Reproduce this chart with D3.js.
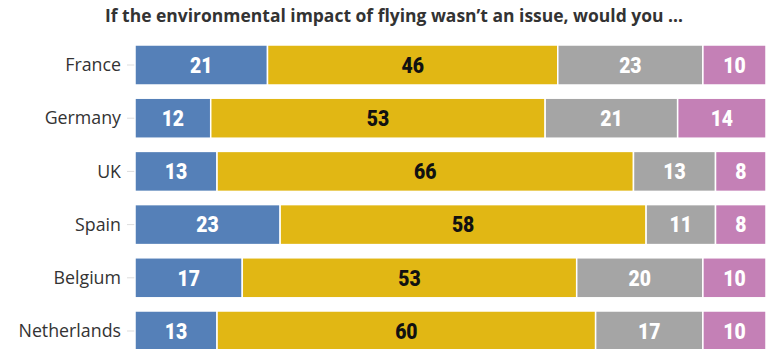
<!DOCTYPE html>
<html>
<head>
<meta charset="utf-8">
<script src="https://cdn.jsdelivr.net/npm/d3@7"></script>
<style>
  html, body { margin: 0; padding: 0; background: #fff; }
  svg { display: block; }
</style>
</head>
<body>
<svg id="chart" width="772" height="349"></svg>
<script>
const title = "If the environmental impact of flying wasn\u2019t an issue, would you \u2026";
const countries = ["France", "Germany", "UK", "Spain", "Belgium", "Netherlands"];
const seriesKeys = ["s1", "s2", "s3", "s4"];
const s1 = [21, 12, 13, 23, 17, 13];
const s2 = [46, 53, 66, 58, 53, 60];
const s3 = [23, 21, 13, 11, 20, 17];
const s4 = [10, 14, 8, 8, 10, 10];
const colors = ["#5580b8", "#e1b714", "#a5a5a5", "#c480b6"];
const textColors = ["#ffffff", "#111111", "#ffffff", "#ffffff"];

const rows = countries.map((c, i) => ({ country: c, s1: s1[i], s2: s2[i], s3: s3[i], s4: s4[i] }));
const stacked = d3.stack().keys(seriesKeys)(rows);

const svg = d3.select("#chart");
const x = d3.scaleLinear().domain([0, 100]).range([135, 766]);
const y = d3.scaleBand().domain(countries).range([38.4, 357.6]).paddingInner(0.248).paddingOuter(0.124);

// title
svg.append("text")
  .attr("x", 394).attr("y", 22)
  .attr("text-anchor", "middle")
  .attr("font-family", "'Open Sans', sans-serif")
  .attr("font-weight", 700)
  .attr("font-size", 18.5)
  .attr("fill", "#333")
  .attr("textLength", 578)
  .attr("lengthAdjust", "spacingAndGlyphs")
  .text(title);

// y axis
const yAxis = svg.append("g")
  .attr("transform", `translate(${x(0)},0)`)
  .call(d3.axisLeft(y).tickSize(8).tickPadding(6));
yAxis.select(".domain").remove();
yAxis.selectAll(".tick line").attr("stroke", "#dddddd").attr("stroke-width", 1);
yAxis.selectAll(".tick text")
  .attr("font-family", "'Open Sans', sans-serif")
  .attr("font-size", 17.8)
  .attr("fill", "#333")
  .attr("dy", "0.35em");

// bars
const layers = svg.append("g").selectAll("g")
  .data(stacked).join("g")
  .attr("fill", (d, i) => colors[i]);

layers.selectAll("rect")
  .data(d => d.map(v => ({ v, key: d.key })))
  .join("rect")
  .attr("x", d => x(d.v[0]))
  .attr("y", d => y(d.v.data.country))
  .attr("width", d => x(d.v[1]) - x(d.v[0]))
  .attr("height", y.bandwidth())
  .attr("stroke", "#fff")
  .attr("stroke-width", 1.5);

// labels
stacked.forEach((layer, li) => {
  svg.append("g").selectAll("text")
    .data(layer).join("text")
    .attr("transform", d => `translate(${(x(d[0]) + x(d[1])) / 2},${y(d.data.country) + y.bandwidth() / 2}) scale(0.9,1)`)
    .attr("text-anchor", "middle")
    .attr("dy", "0.36em")
    .attr("font-family", "Roboto, sans-serif")
    .attr("font-weight", 900)
    .attr("font-size", 21.5)
    .attr("fill", textColors[li])
    .text(d => d[1] - d[0]);
});
</script>
</body>
</html>
